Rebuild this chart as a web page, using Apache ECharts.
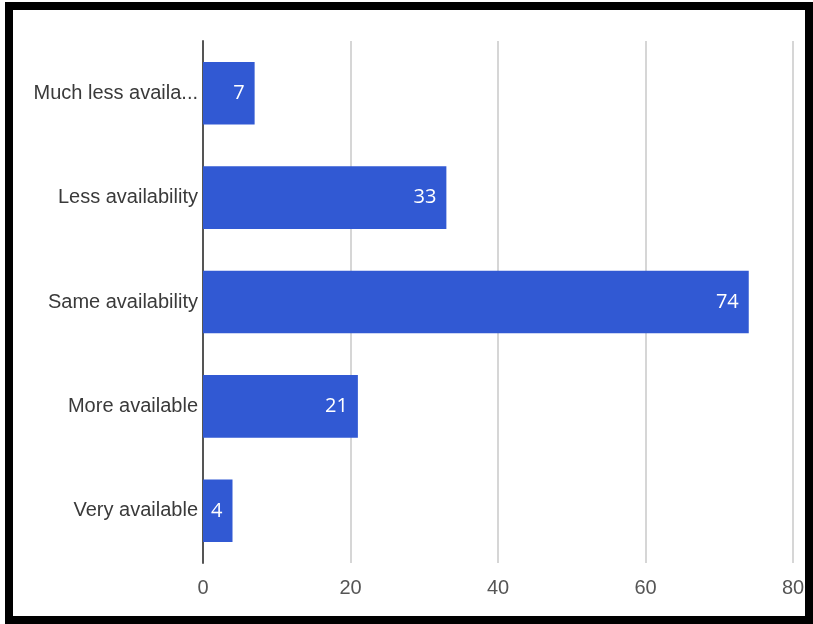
<!DOCTYPE html>
<html>
<head>
<meta charset="utf-8">
<script src="https://cdn.jsdelivr.net/npm/echarts@6/dist/echarts.min.js"></script>
<style>
  html, body { margin: 0; padding: 0; background: #fff; }
  #chart { width: 813px; height: 624px; }
</style>
</head>
<body>
<div id="chart"></div>
<script>
// Survey responses by availability level
const categories = ['Much less availability', 'Less availability', 'Same availability', 'More available', 'Very available'];
const counts = [7, 33, 74, 21, 4];
const xTicks = { min: 0, max: 80, interval: 20 };

const chart = echarts.init(document.getElementById('chart'), null, { renderer: 'canvas' });

chart.setOption({
  animation: false,
  backgroundColor: '#ffffff',
  grid: { left: 203, right: 20, top: 41, bottom: 61, containLabel: false },
  xAxis: {
    type: 'value',
    min: xTicks.min,
    max: xTicks.max,
    interval: xTicks.interval,
    axisLine: { show: false },
    axisTick: { show: false },
    splitLine: { lineStyle: { color: '#d6d6d6', width: 2 } },
    axisLabel: {
      color: '#555555',
      fontFamily: 'Liberation Sans, Arial, sans-serif',
      fontSize: 20,
      margin: 15
    }
  },
  yAxis: {
    type: 'category',
    inverse: true,
    data: categories,
    axisLine: { show: true, onZero: false, lineStyle: { color: '#555555', width: 2 } },
    axisTick: { show: false },
    splitLine: { show: false },
    axisLabel: {
      color: '#3a3a3a',
      fontFamily: 'Liberation Sans, Arial, sans-serif',
      fontSize: 20,
      margin: 5,
      width: 170,
      overflow: 'truncate',
      ellipsis: '...'
    }
  },
  series: [{
    type: 'bar',
    data: counts,
    barCategoryGap: '40%',
    itemStyle: { color: '#3159d3' },
    label: {
      show: true,
      position: 'insideRight',
      distance: 10,
      color: '#ffffff',
      fontFamily: 'Open Sans, Noto Sans, sans-serif',
      fontSize: 20
    }
  }],
  graphic: [{
    type: 'rect',
    silent: true,
    shape: { x: 9, y: 6, width: 800, height: 614 },
    style: { fill: 'none', stroke: '#000000', lineWidth: 8 }
  }]
});
</script>
</body>
</html>
